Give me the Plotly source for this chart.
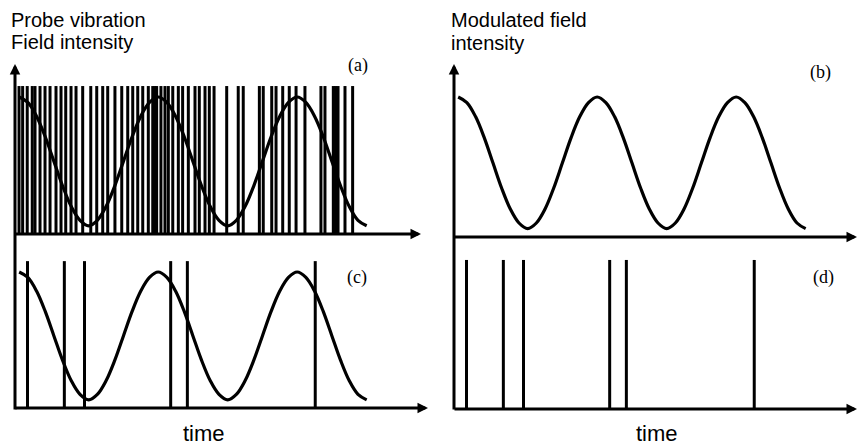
import plotly.graph_objects as go

# ---------------- data (time in units of one field period) ----------------
field_time = [0.03, 0.0925, 0.155, 0.2175, 0.28, 0.3425, 0.405, 0.4675, 0.53,
              0.5925, 0.655, 0.7175, 0.78, 0.8425, 0.905, 0.9675, 1.03,
              1.0925, 1.155, 1.2175, 1.28, 1.3425, 1.405, 1.4675, 1.53,
              1.5925, 1.655, 1.7175, 1.78, 1.8425, 1.905, 1.9675, 2.03,
              2.0925, 2.155, 2.2175, 2.28, 2.3425, 2.405, 2.4675, 2.53]
field_level = [1.00, 0.96, 0.86, 0.71, 0.53, 0.35, 0.20, 0.10, 0.06,
               0.10, 0.20, 0.35, 0.53, 0.71, 0.86, 0.96, 1.00,
               0.96, 0.86, 0.71, 0.53, 0.35, 0.20, 0.10, 0.06,
               0.10, 0.20, 0.35, 0.53, 0.71, 0.86, 0.96, 1.00,
               0.96, 0.86, 0.71, 0.53, 0.35, 0.20, 0.10, 0.06]

probe_times = [0.029, 0.055, 0.088, 0.124, 0.144, 0.180, 0.216, 0.252, 0.295,
               0.331, 0.365, 0.403, 0.439, 0.487, 0.545, 0.588, 0.631, 0.667,
               0.719, 0.768, 0.811, 0.847, 0.883, 0.919, 0.959, 0.991, 1.007,
               1.019, 1.050, 1.079, 1.103, 1.135, 1.175, 1.206, 1.247, 1.295,
               1.326, 1.367, 1.398, 1.432, 1.523, 1.606, 1.642, 1.758, 1.786,
               1.847, 1.878, 1.926, 1.973, 2.022, 2.086, 2.201, 2.230, 2.290,
               2.306, 2.324, 2.374, 2.429]

trigger_times = [0.09, 0.355, 0.50, 1.12, 1.24, 2.16]

pulse_height = [1.08]

title_left = ["Probe vibration", "Field intensity"]
title_right = ["Modulated field", "intensity"]
axis_label = "time"
panel_labels = ["(a)", "(b)", "(c)", "(d)"]

# ---------------- layout geometry ----------------
W, H = 858, 445
PX_PER_T = 139.0


def fx(px):
    return px / W


def fy(py):
    return 1 - py / H


def spikes(times, h):
    xs, ys = [], []
    for t in times:
        xs += [t, t, None]
        ys += [0, h, None]
    return xs, ys


fig = go.Figure()

line_style = dict(color="black", width=3.2)
bar_style = dict(color="black", width=3)

# panel (a): probe vibration pulses + field
xa, ya = spikes(probe_times, pulse_height[0])
fig.add_trace(go.Scatter(x=xa, y=ya, mode="lines", line=bar_style, xaxis="x", yaxis="y"))
fig.add_trace(go.Scatter(x=field_time, y=field_level, mode="lines", line_shape="spline",
                         line=line_style, xaxis="x", yaxis="y"))
# panel (b): modulated field
fig.add_trace(go.Scatter(x=field_time, y=field_level, mode="lines", line_shape="spline",
                         line=line_style, xaxis="x2", yaxis="y2"))
# panel (c): triggers + field
xc, yc = spikes(trigger_times, pulse_height[0])
fig.add_trace(go.Scatter(x=xc, y=yc, mode="lines", line=bar_style, xaxis="x3", yaxis="y3"))
fig.add_trace(go.Scatter(x=field_time, y=field_level, mode="lines", line_shape="spline",
                         line=line_style, xaxis="x3", yaxis="y3"))
# panel (d): triggers only
fig.add_trace(go.Scatter(x=xc, y=yc, mode="lines", line=bar_style, xaxis="x4", yaxis="y4"))

hidden = dict(visible=False, showgrid=False, zeroline=False, showline=False, fixedrange=True)

fig.update_layout(
    width=W, height=H,
    margin=dict(l=0, r=0, t=0, b=0, pad=0),
    paper_bgcolor="white", plot_bgcolor="rgba(0,0,0,0)",
    showlegend=False,
    xaxis=dict(domain=[fx(15), fx(421)], range=[0, 406 / PX_PER_T], anchor="y", **hidden),
    yaxis=dict(domain=[fy(234), fy(64)], range=[0, 170 / 137], anchor="x", **hidden),
    xaxis2=dict(domain=[fx(454), fx(858)], range=[0, 404 / PX_PER_T], anchor="y2", **hidden),
    yaxis2=dict(domain=[fy(237), fy(64)], range=[0, 173 / 140], anchor="x2", **hidden),
    xaxis3=dict(domain=[fx(15), fx(428)], range=[0, 413 / PX_PER_T], anchor="y3", **hidden),
    yaxis3=dict(domain=[fy(408), fy(234)], range=[0, 174 / 136], anchor="x3", **hidden),
    xaxis4=dict(domain=[fx(454), fx(858)], range=[0, 404 / PX_PER_T], anchor="y4", **hidden),
    yaxis4=dict(domain=[fy(409), fy(237)], range=[0, 172 / 138], anchor="x4", **hidden),
)

annotations = []


def arrow(x0, y0, x1, y1):
    annotations.append(dict(
        xref="paper", yref="paper", x=fx(x1), y=fy(y1),
        axref="pixel", ayref="pixel", ax=x0 - x1, ay=y0 - y1,
        text="", showarrow=True, arrowhead=2, arrowsize=0.7, arrowwidth=3,
        arrowcolor="black", standoff=0, startstandoff=0))


# axes drawn as arrows
arrow(15, 411, 15, 64)      # left vertical axis
arrow(454, 411, 454, 64)    # right vertical axis
arrow(14, 234, 421, 234)    # (a)
arrow(453, 237, 862, 237)   # (b)
arrow(14, 408, 428, 408)    # (c)
arrow(453, 409, 862, 409)   # (d)

sans = dict(family="Liberation Sans, Arial, sans-serif", size=20, color="black")
serif = dict(family="Liberation Serif, Times New Roman, serif", size=18, color="black")


def text(s, px, py, font, xanchor="left"):
    annotations.append(dict(xref="paper", yref="paper", x=fx(px), y=fy(py), text=s,
                            showarrow=False, xanchor=xanchor, yanchor="middle", font=font))


text(title_left[0], 9, 20, sans)
text(title_left[1], 9, 41.5, sans)
text(title_right[0], 449, 20, sans)
text(title_right[1], 449, 42.5, sans)

time_font = dict(sans, size=22)
text(axis_label, 204, 433, time_font, xanchor="center")
text(axis_label, 657, 433, time_font, xanchor="center")

text(panel_labels[0], 357.5, 65.5, serif, xanchor="center")
text(panel_labels[1], 820, 72, serif, xanchor="center")
text(panel_labels[2], 357, 277, serif, xanchor="center")
text(panel_labels[3], 823, 277, serif, xanchor="center")

fig.update_layout(annotations=annotations)

fig.write_html(
    "out.html",
    config={"displayModeBar": False, "staticPlot": True},
    post_script="document.body.style.margin='0';document.body.style.overflow='hidden';",
)
